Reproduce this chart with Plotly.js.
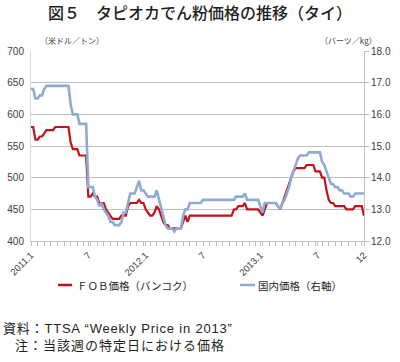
<!DOCTYPE html>
<html>
<head>
<meta charset="utf-8">
<script src="https://cdn.plot.ly/plotly-3.0.1.min.js"></script>
<style>html,body{margin:0;padding:0;background:#fff;}#chart{width:400px;height:362px;}</style>
</head>
<body>
<div id="chart"></div>
<script>
// Weekly observations, Jan 2011 - Dec 2013 (week index 0..151)
const fobPrice = [ // US$/ton, FOB Bangkok (left axis)
  580,580,560,560,565,565,570,575,575,575,
  575,580,580,580,580,580,580,580,555,545,
  545,545,535,535,535,535,470,470,475,470,
  470,460,460,460,450,445,440,435,435,435,
  435,440,440,440,455,460,460,460,460,465,
  460,460,450,445,440,440,445,455,450,440,
  430,425,425,420,420,420,420,420,420,430,
  440,430,440,440,440,440,440,440,440,440,
  440,440,440,440,440,440,440,440,440,440,
  440,440,450,450,455,455,455,460,450,450,
  450,450,450,450,445,440,450,460,460,460,
  460,460,455,450,460,470,480,490,500,510,
  515,515,515,515,515,520,520,520,520,510,
  510,510,500,500,480,465,460,460,455,455,
  455,455,455,450,450,450,450,455,455,455,
  455,440
];
const domesticPrice = [ // baht/kg, domestic (right axis)
  16.8,16.8,16.5,16.5,16.6,16.6,16.8,16.9,16.9,16.9,
  16.9,16.9,16.9,16.9,16.9,16.9,16.9,16.9,16.3,16.0,
  16.0,16.0,15.7,15.7,15.7,15.7,13.7,13.7,13.7,13.4,
  13.3,13.1,13.2,13.0,12.9,12.8,12.6,12.6,12.5,12.5,
  12.5,12.6,12.9,12.9,13.2,13.5,13.5,13.5,13.7,13.9,
  13.6,13.6,13.5,13.4,13.4,13.4,13.4,13.6,13.3,13.0,
  12.7,12.5,12.4,12.4,12.4,12.3,12.4,12.4,12.4,12.8,
  13.0,13.0,13.2,13.2,13.2,13.2,13.2,13.2,13.3,13.3,
  13.3,13.3,13.3,13.3,13.3,13.3,13.3,13.3,13.3,13.3,
  13.3,13.3,13.3,13.4,13.4,13.4,13.4,13.5,13.3,13.3,
  13.3,13.3,13.3,13.3,13.1,12.9,13.2,13.2,13.2,13.2,
  13.2,13.2,13.1,13.0,13.2,13.3,13.5,13.7,14.0,14.2,
  14.4,14.6,14.7,14.7,14.7,14.7,14.8,14.8,14.8,14.8,
  14.8,14.8,14.5,14.4,14.2,14.0,13.8,13.8,13.7,13.7,
  13.6,13.6,13.5,13.5,13.5,13.4,13.4,13.5,13.5,13.5,
  13.5,13.5
];
const weeks = fobPrice.map((_, i) => i);
const tickWeeks = [0, 26, 52, 78, 104, 130, 151];
const tickLabels = ['2011.1', '7', '2012.1', '7', '2013.1', '7', '12'];
const seriesNames = ['ＦＯＢ価格（バンコク）', '国内価格（右軸）'];
const seriesColors = ['#c0131d', '#8faad3'];

const JP = '"Noto Sans CJK JP", "Liberation Sans", sans-serif';
const LAT = '"Liberation Sans", Arial, "Noto Sans CJK JP", sans-serif';

// helpers converting pixel positions to paper coords (plot area 31..364 x, 51..241 y)
const L = 31, R = 364, T = 51, B = 241;
const px = x => (x - L) / (R - L);
const py = y => (B - y) / (B - T);

const traces = [
  {x: weeks, y: domesticPrice, yaxis: 'y2', type: 'scatter', mode: 'lines', name: seriesNames[1],
   line: {color: seriesColors[1], width: 2.6}, showlegend: false},
  {x: weeks, y: fobPrice, type: 'scatter', mode: 'lines', name: seriesNames[0],
   line: {color: seriesColors[0], width: 2.2}, showlegend: false}
];

const layout = {
  width: 400, height: 362,
  margin: {l: L, r: 400 - R, t: T, b: 362 - B, pad: 0},
  paper_bgcolor: '#fff', plot_bgcolor: '#fff',
  title: {text: '図５　タピオカでん粉価格の推移（タイ）', x: 0.5, xref: 'container', xanchor: 'center',
          y: 1 - 13 / 362, yref: 'container', yanchor: 'middle',
          font: {family: JP, size: 16, color: '#231f20', weight: 500}},
  xaxis: {range: [0, 151], showgrid: false, zeroline: false,
          showline: true, linecolor: '#bfbfbf', linewidth: 1,
          tickmode: 'array', tickvals: tickWeeks, ticktext: tickLabels, tickangle: -45,
          ticks: 'outside', ticklen: 4, tickcolor: '#bfbfbf',
          minor: {tickmode: 'linear', tick0: 0, dtick: 3, ticks: 'outside', ticklen: 4, tickcolor: '#bfbfbf', showgrid: false},
          tickfont: {family: LAT, size: 9.5, color: '#404040'}},
  yaxis: {range: [400, 700], dtick: 50, showgrid: true, gridcolor: '#bfbfbf', gridwidth: 1,
          zeroline: false, showline: true, linecolor: '#d9d9d9', ticks: '',
          tickfont: {family: LAT, size: 10, color: '#404040'}, ticklabelstandoff: 4},
  yaxis2: {range: [12, 18], dtick: 1, tickformat: '.1f', overlaying: 'y', side: 'right',
           showgrid: false, zeroline: false, showline: true, linecolor: '#bfbfbf',
           ticks: 'outside', ticklen: 4, tickcolor: '#bfbfbf',
           tickfont: {family: LAT, size: 10, color: '#404040'}},
  shapes: [
    {type: 'line', xref: 'paper', yref: 'paper', x0: px(58), x1: px(72), y0: py(285), y1: py(285),
     line: {color: seriesColors[0], width: 2.5}},
    {type: 'line', xref: 'paper', yref: 'paper', x0: px(240), x1: px(255), y0: py(285), y1: py(285),
     line: {color: seriesColors[1], width: 2.5}}
  ],
  annotations: [
    {text: '（米ドル／トン）', xref: 'paper', yref: 'paper', x: px(38), y: py(40), xanchor: 'left', yanchor: 'middle',
     showarrow: false, font: {family: JP, size: 8, color: '#404040'}},
    {text: '（バーツ／kg）', xref: 'paper', yref: 'paper', x: px(379), y: py(40), xanchor: 'right', yanchor: 'middle',
     showarrow: false, font: {family: JP, size: 8, color: '#404040'}},
    {text: seriesNames[0], xref: 'paper', yref: 'paper', x: px(75), y: py(285), xanchor: 'left', yanchor: 'middle',
     showarrow: false, font: {family: JP, size: 10.5, color: '#231f20'}},
    {text: seriesNames[1], xref: 'paper', yref: 'paper', x: px(256), y: py(285), xanchor: 'left', yanchor: 'middle',
     showarrow: false, font: {family: JP, size: 10.5, color: '#231f20'}},
    {text: '<span style="letter-spacing:0.8px">資料：TTSA “Weekly Price in 2013”</span>', xref: 'paper', yref: 'paper', x: px(1), y: py(328), xanchor: 'left', yanchor: 'middle',
     showarrow: false, font: {family: LAT, size: 13, color: '#231f20'}},
    {text: '<span style="letter-spacing:1px">注：当該週の特定日における価格</span>', xref: 'paper', yref: 'paper', x: px(13), y: py(344), xanchor: 'left', yanchor: 'middle',
     showarrow: false, font: {family: JP, size: 13, color: '#231f20'}}
  ]
};

Plotly.newPlot('chart', traces, layout, {staticPlot: true, displayModeBar: false});
</script>
</body>
</html>
